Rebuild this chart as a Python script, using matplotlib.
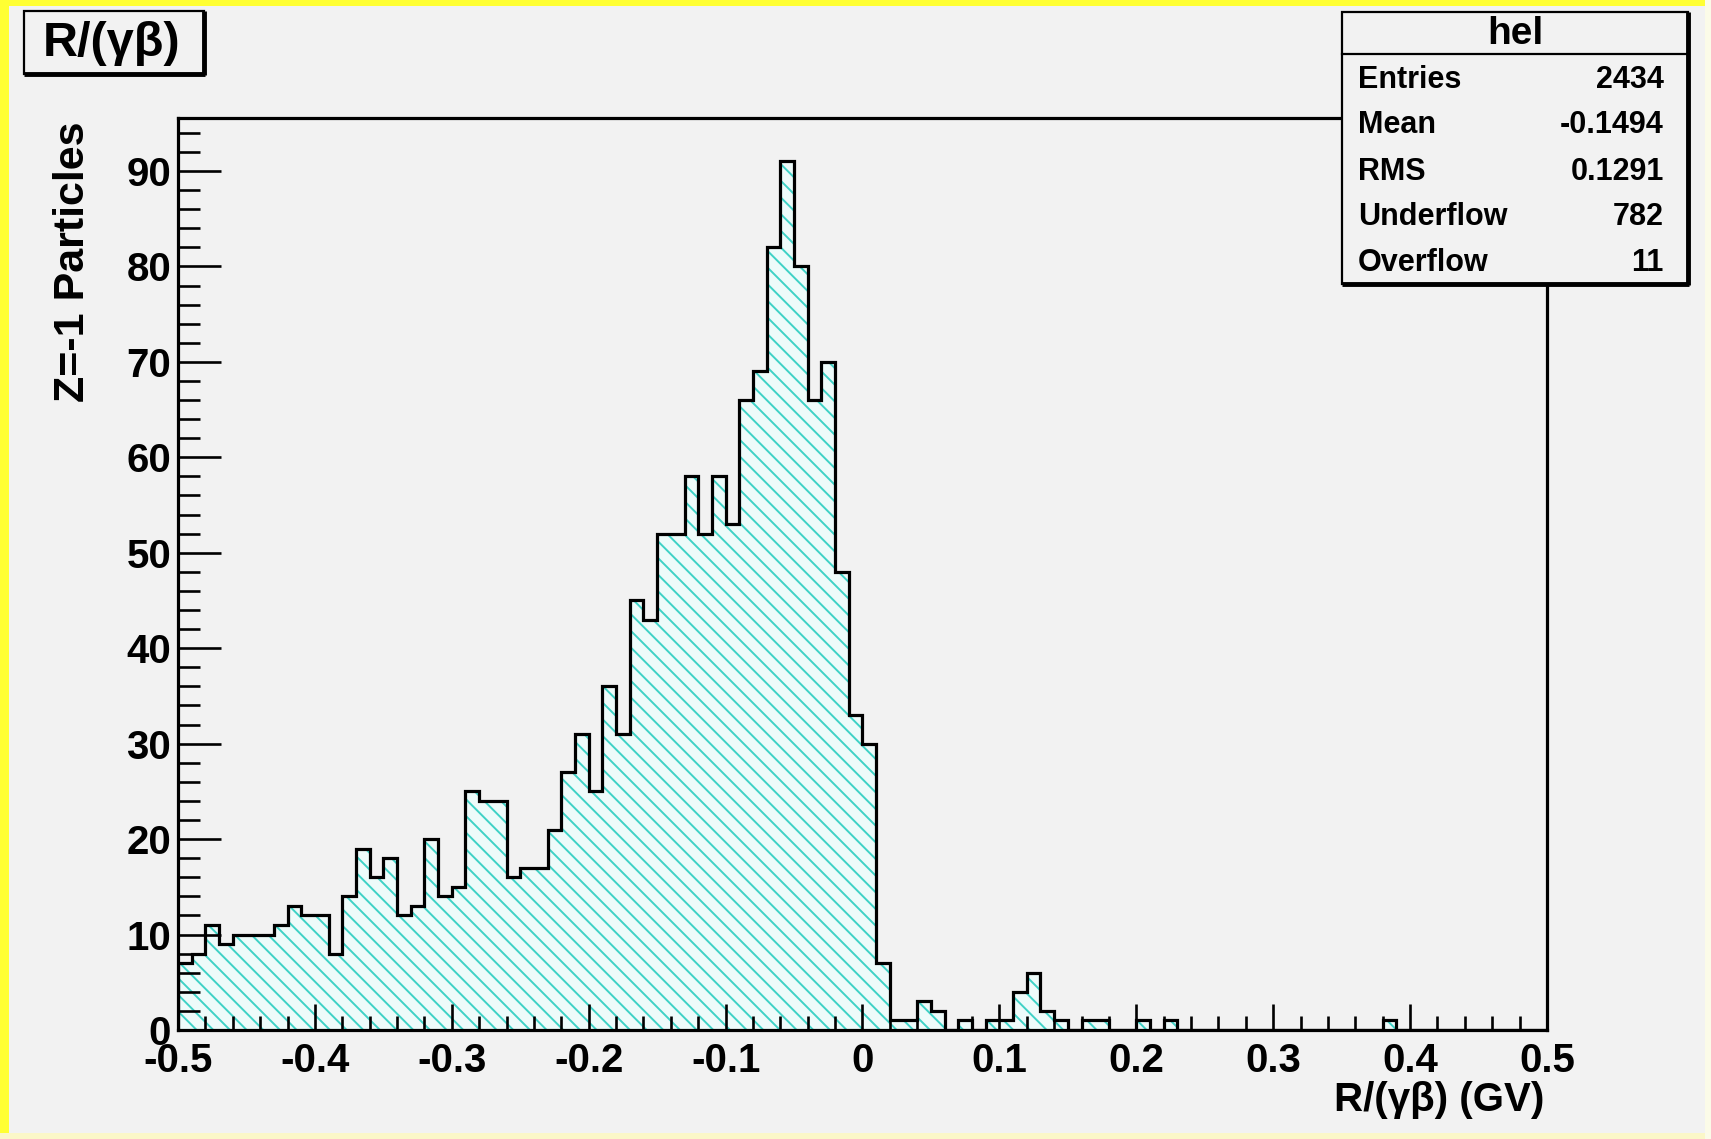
import numpy as np
import matplotlib
matplotlib.use("Agg")
import matplotlib.pyplot as plt
from matplotlib.patches import Rectangle

plt.rcParams['font.family'] = ['Liberation Sans', 'DejaVu Sans']
plt.rcParams['font.weight'] = 'bold'
plt.rcParams['hatch.linewidth'] = 1.4

# 100 bins of R/(gamma*beta) between -0.5 and 0.5 GV
counts = [
    7, 8, 11, 9, 10, 10, 10, 11, 13, 12,
    12, 8, 14, 19, 16, 18, 12, 13, 20, 14,
    15, 25, 24, 24, 16, 17, 17, 21, 27, 31,
    25, 36, 31, 45, 43, 52, 52, 58, 52, 58,
    53, 66, 69, 82, 91, 80, 66, 70, 48, 33,
    30, 7, 1, 1, 3, 2, 0, 1, 0, 1,
    1, 4, 6, 2, 1, 0, 1, 1, 0, 0,
    1, 0, 1, 0, 0, 0, 0, 0, 0, 0,
    0, 0, 0, 0, 0, 0, 0, 0, 1, 0,
    0, 0, 0, 0, 0, 0, 0, 0, 0, 0,
]
x_lo, x_hi = -0.5, 0.5
xtick_labels = ['-0.5', '-0.4', '-0.3', '-0.2', '-0.1', '0', '0.1', '0.2', '0.3', '0.4', '0.5']
ytick_vals = [0, 10, 20, 30, 40, 50, 60, 70, 80, 90]

stat_names = ['Entries', 'Mean', 'RMS', 'Underflow', 'Overflow']
stat_values = ['2434', '-0.1494', '0.1291', '782', '11']

W, H = 1711, 1139
bg = '#f2f2f2'

fig = plt.figure(figsize=(W / 100, H / 100), dpi=100)
fig.patch.set_facecolor(bg)

# frame in pixels: left, top, right, bottom
fl, ft, fr, fb = 178, 118, 1547, 1030
ax = fig.add_axes([fl / W, 1 - fb / H, (fr - fl) / W, (fb - ft) / H])
ax.set_facecolor(bg)

edges = np.linspace(x_lo, x_hi, len(counts) + 1)
ax.stairs(counts, edges, fill=True, facecolor='#eefbfa', edgecolor='#3fd2c6',
          hatch='\\\\', linewidth=0, zorder=1)
ax.stairs(counts, edges, color='black', linewidth=2.3, zorder=2)

ax.set_xlim(x_lo, x_hi)
ax.set_ylim(0, max(counts) * 1.05)

ax.set_xticks(np.linspace(x_lo, x_hi, len(xtick_labels)))
ax.set_xticklabels(xtick_labels)
ax.set_xticks(np.arange(x_lo, x_hi + 1e-9, 0.02), minor=True)
ax.set_yticks(ytick_vals)
ax.set_yticks(np.arange(0, 95, 2), minor=True)

ax.tick_params(axis='both', which='both', direction='in', top=False, right=False,
               width=1.9, color='black', labelsize=29)
ax.tick_params(axis='y', which='major', length=31, pad=5)
ax.tick_params(axis='y', which='minor', length=16)
ax.tick_params(axis='x', which='major', length=19, pad=9)
ax.tick_params(axis='x', which='minor', length=10)
for s in ax.spines.values():
    s.set_linewidth(2.3)

# axis titles
fig.text(73 / W, 1 - 121 / H, 'Z=-1 Particles', rotation=90, ha='center', va='top',
         fontsize=31, fontweight='bold')
fig.text(1544 / W, 1 - 1100 / H, 'R/(γβ) (GV)', ha='right', va='center',
         fontsize=29, fontweight='bold')

# overlay in pixel coordinates for the boxes and canvas border
ov = fig.add_axes([0, 0, 1, 1], zorder=5)
ov.set_xlim(0, W)
ov.set_ylim(H, 0)
ov.axis('off')

# yellow canvas border
ov.add_patch(Rectangle((0, 0), W, 6, facecolor='#ffff33', edgecolor='none'))
ov.add_patch(Rectangle((0, 0), 9, H, facecolor='#ffff33', edgecolor='none'))
ov.add_patch(Rectangle((0, H - 6), W, 6, facecolor='#fbf7c8', edgecolor='none'))
ov.add_patch(Rectangle((W - 6, 0), 6, H, facecolor='#fbfbe8', edgecolor='none'))

# title pave
ov.add_patch(Rectangle((24, 11), 180, 63, facecolor=bg, edgecolor='black', linewidth=1.6))
ov.plot([24, 205], [74, 74], color='black', linewidth=3.5, solid_capstyle='butt')
ov.plot([204, 204], [11, 75], color='black', linewidth=3.5, solid_capstyle='butt')
ov.text(112, 44, 'R/(γβ)', ha='center', va='center', fontsize=35, fontweight='bold')

# statistics box
sl, st, sr, sb = 1342, 12, 1688, 284
ov.add_patch(Rectangle((sl, st), sr - sl, sb - st, facecolor=bg, edgecolor='black',
                       linewidth=1.6))
ov.plot([sl, sr + 1], [sb, sb], color='black', linewidth=3.5, solid_capstyle='butt')
ov.plot([sr, sr], [st, sb + 1], color='black', linewidth=3.5, solid_capstyle='butt')
ov.plot([sl, sr], [54, 54], color='black', linewidth=1.6)
ov.text((sl + sr) / 2, 34, 'hel', ha='center', va='center', fontsize=28, fontweight='bold')
row_y = [80, 125, 172, 217, 263]
for name, val, y in zip(stat_names, stat_values, row_y):
    ov.text(1358, y, name, ha='left', va='center', fontsize=22, fontweight='bold')
    ov.text(1664, y, val, ha='right', va='center', fontsize=22, fontweight='bold')

fig.savefig('out.png', dpi=100, facecolor=fig.get_facecolor())
